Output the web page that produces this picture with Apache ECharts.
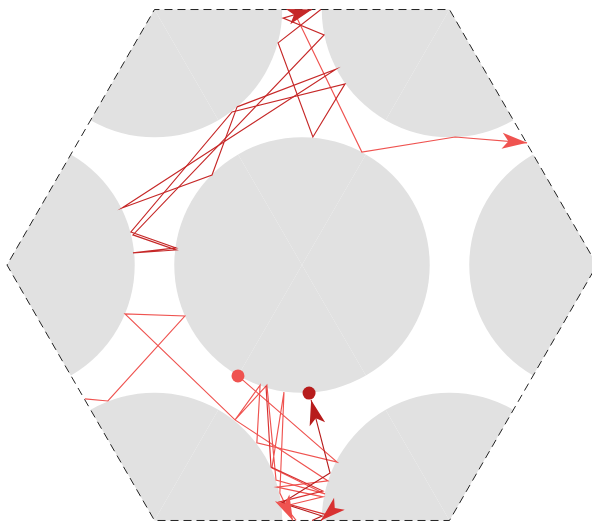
<!DOCTYPE html>
<html>
<head>
<meta charset="utf-8">
<script src="https://cdn.jsdelivr.net/npm/echarts@6/dist/echarts.min.js"></script>
<style>
  html, body { margin: 0; padding: 0; background: #ffffff; }
  #chart { width: 592px; height: 521px; }
</style>
</head>
<body>
<div id="chart"></div>
<script>
// Hexagonal cell of a periodic Lorentz gas (unit side), scatterers at the
// centre and at each corner, with particle paths folded back into the cell.

// cell corners, counter-clockwise from the right-hand corner
const hexVertices = [[1, 0], [0.5, 0.866], [-0.5, 0.866], [-1, 0], [-0.5, -0.866], [0.5, -0.866]];
const scattererRadius = 0.433;

// path pieces between boundary crossings, [x, y] in cell units
const lightPieceA = [[-0.217, -0.376], [0.119, -0.668], [-0.153, -0.603], [-0.142, -0.407], [-0.227, -0.525],
  [-0.119, -0.407], [-0.088, -0.729], [0.078, -0.776], [-0.102, -0.688], [-0.061, -0.431], [-0.075, -0.773], [-0.031, -0.866]];
const lightPieceB = [[-0.031, 0.866], [0.203, 0.383], [0.519, 0.434], [0.763, 0.414]];
const lightPieceC = [[-0.736, -0.454], [-0.658, -0.461], [-0.397, -0.173], [-0.600, -0.166], [-0.227, -0.525],
  [0.088, -0.732], [-0.085, -0.753], [0.071, -0.786], [-0.058, -0.817], [-0.020, -0.866]];
const midPiece = [[-0.122, -0.410], [-0.105, -0.685], [0.071, -0.766], [-0.075, -0.803], [0.085, -0.847], [0.064, -0.866]];
const darkPieceA = [[0.064, 0.866], [-0.081, 0.753], [0.037, 0.434], [0.146, 0.614], [-0.237, 0.519], [-0.580, 0.112],
  [-0.427, 0.058], [-0.573, 0.041], [-0.427, 0.051], [-0.573, 0.102], [0.075, 0.780], [-0.064, 0.837], [0.034, 0.866]];
const darkPieceB = [[-0.220, 0.536], [0.115, 0.664], [-0.610, 0.193], [-0.305, 0.305], [-0.220, 0.536]];
const deepPiece = [[0.034, -0.866], [0.068, -0.851], [-0.068, -0.807], [0.095, -0.705], [0.031, -0.458]];

// particle positions marked with a dot
const lightDot = [-0.217, -0.376];
const deepDot = [0.024, -0.434];

const COLORS = { light: '#ef5350', mid: '#d83131', dark: '#c62828', deep: '#b71c1c' };

const pieces = [
  { coords: lightPieceA, color: COLORS.light, arrow: true },
  { coords: lightPieceB, color: COLORS.light, arrow: true },
  { coords: lightPieceC, color: COLORS.light, arrow: false },
  { coords: midPiece, color: COLORS.mid, arrow: true },
  { coords: darkPieceA, color: COLORS.dark, arrow: true },
  { coords: darkPieceB, color: COLORS.dark, arrow: false },
  { coords: deepPiece, color: COLORS.deep, arrow: true }
];

// visible window in cell units
const VIEW = { xMin: -1.0237, xMax: 0.9831, yMin: -0.8678, yMax: 0.8983 };

// scatterer pieces: one 60-degree sector per triangle of the cell
const sectorData = [];
for (let k = 0; k < 6; k++) {
  sectorData.push([0, 0, 60 * k, 60 * k + 60]);
}
hexVertices.forEach(function (v, k) {
  const inward = 60 * k + 180;
  sectorData.push([v[0], v[1], inward - 60, inward]);
  sectorData.push([v[0], v[1], inward, inward + 60]);
});

const hexOutline = hexVertices.concat([hexVertices[0]]);

const linesData = pieces.map(function (p) {
  return { coords: p.coords, lineStyle: { color: p.color } };
});

const arrowData = pieces.filter(function (p) { return p.arrow; }).map(function (p) {
  const n = p.coords.length;
  const a = p.coords[n - 2], b = p.coords[n - 1];
  return { value: [a[0], a[1], b[0], b[1]], itemStyle: { color: p.color } };
});

const chart = echarts.init(document.getElementById('chart'), null, { renderer: 'canvas' });

chart.setOption({
  animation: false,
  backgroundColor: '#ffffff',
  grid: { left: 0, right: 0, top: 0, bottom: 0 },
  xAxis: { type: 'value', min: VIEW.xMin, max: VIEW.xMax, show: false },
  yAxis: { type: 'value', min: VIEW.yMin, max: VIEW.yMax, show: false },
  series: [
    {
      type: 'custom',
      z: 1,
      silent: true,
      data: sectorData,
      renderItem: function (params, api) {
        const c = api.coord([api.value(0), api.value(1)]);
        const r = api.size([scattererRadius, 0])[0];
        const a1 = api.value(2) * Math.PI / 180;
        const a2 = api.value(3) * Math.PI / 180;
        return {
          type: 'sector',
          shape: { cx: c[0], cy: c[1], r0: 0, r: r, startAngle: -a2, endAngle: -a1, clockwise: true },
          style: { fill: '#e1e1e1' }
        };
      }
    },
    {
      type: 'line',
      z: 2,
      silent: true,
      data: hexOutline,
      symbol: 'none',
      lineStyle: { color: '#222222', width: 1, type: [8, 5] }
    },
    {
      type: 'lines',
      coordinateSystem: 'cartesian2d',
      polyline: true,
      z: 3,
      silent: true,
      data: linesData,
      lineStyle: { width: 1.15, opacity: 1 }
    },
    {
      type: 'custom',
      z: 4,
      silent: true,
      data: arrowData,
      renderItem: function (params, api) {
        const p0 = api.coord([api.value(0), api.value(1)]);
        const p1 = api.coord([api.value(2), api.value(3)]);
        const dx = p1[0] - p0[0], dy = p1[1] - p0[1];
        const len = Math.sqrt(dx * dx + dy * dy) || 1;
        const ux = dx / len, uy = dy / len;
        const px = -uy, py = ux;
        const h = 25, hw = 8;
        const back = [p1[0] - ux * h, p1[1] - uy * h];
        const notch = [p1[0] - ux * h * 0.75, p1[1] - uy * h * 0.75];
        return {
          type: 'polygon',
          shape: { points: [p1, [back[0] + px * hw, back[1] + py * hw], notch, [back[0] - px * hw, back[1] - py * hw]] },
          style: { fill: api.visual('color') }
        };
      }
    },
    {
      type: 'scatter',
      z: 5,
      silent: true,
      symbolSize: 13,
      itemStyle: { opacity: 1 },
      data: [
        { value: lightDot, itemStyle: { color: COLORS.light, opacity: 1 } },
        { value: deepDot, itemStyle: { color: COLORS.deep, opacity: 1 } }
      ]
    }
  ]
});
</script>
</body>
</html>
